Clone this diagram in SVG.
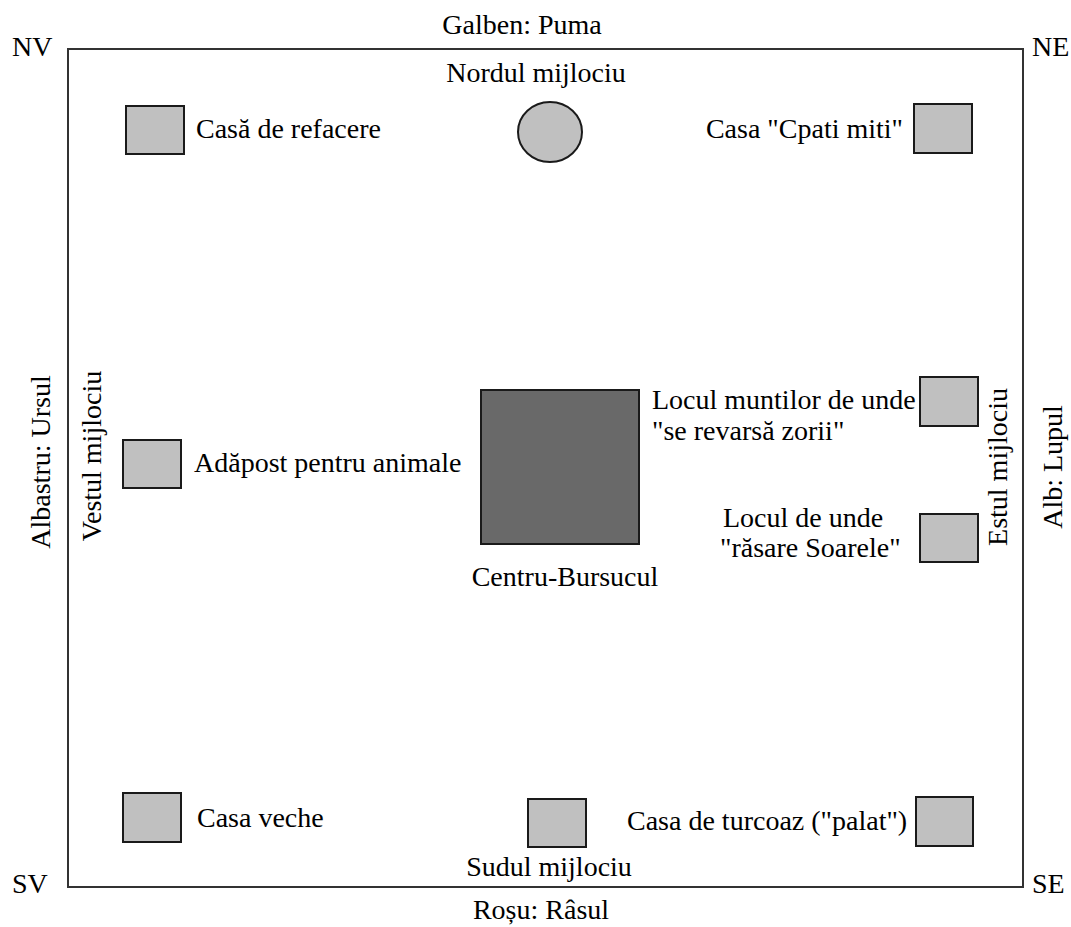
<svg xmlns="http://www.w3.org/2000/svg" width="1071" height="927" viewBox="0 0 1071 927" font-family="'Liberation Serif', Tinos, 'Times New Roman', 'DejaVu Serif', serif">
<style>
text{font-family:"Liberation Serif",Tinos,"Times New Roman","DejaVu Serif",serif;font-size:28px;fill:#000}
.b{fill:#c0c0c0;stroke:#1a1a1a;stroke-width:2}
.d{fill:#696969;stroke:#1a1a1a;stroke-width:2}
.frame{fill:none;stroke:#333;stroke-width:2}
.m{text-anchor:middle}
.e{text-anchor:end}
</style>
<rect width="1071" height="927" fill="#fff"/>
<g id="frame">
<rect class="frame" x="68" y="49" width="955" height="838"/>
<text x="12" y="56">NV</text>
<text x="1032" y="56">NE</text>
<text x="12" y="893">SV</text>
<text x="1032" y="893">SE</text>
<text class="m" x="522" y="34">Galben: Puma</text>
<text class="m" x="541" y="919">Roșu: Râsul</text>
<text class="m" transform="translate(50,462) rotate(-90)">Albastru: Ursul</text>
<text class="m" transform="translate(1062,467) rotate(-90)">Alb: Lupul</text>
</g>
<g id="nordul-mijlociu">
<ellipse class="b" cx="550" cy="132" rx="32" ry="30"/>
<text class="m" x="536" y="82">Nordul mijlociu</text>
</g>
<g id="casa-de-refacere">
<rect class="b" x="126" y="106" width="58" height="48"/>
<text x="196" y="138">Casă de refacere</text>
</g>
<g id="casa-cpati-miti">
<rect class="b" x="914" y="104" width="58" height="49"/>
<text class="e" x="903" y="138">Casa "Cpati miti"</text>
</g>
<g id="vestul-mijlociu">
<text class="m" transform="translate(101,456) rotate(-90)">Vestul mijlociu</text>
</g>
<g id="adapost">
<rect class="b" x="123" y="440" width="58" height="48"/>
<text x="194" y="472">Adăpost pentru animale</text>
</g>
<g id="centru-bursucul">
<rect class="d" x="481" y="390" width="158" height="154"/>
<text class="m" x="565" y="586">Centru-Bursucul</text>
</g>
<g id="locul-muntilor">
<rect class="b" x="920" y="377" width="58" height="49"/>
<text x="652" y="409">Locul muntilor de unde</text>
<text x="652" y="440">"se revarsă zorii"</text>
</g>
<g id="locul-soarele">
<rect class="b" x="920" y="514" width="58" height="48"/>
<text x="723" y="527">Locul de unde</text>
<text x="720" y="557">"răsare Soarele"</text>
</g>
<g id="estul-mijlociu">
<text class="m" transform="translate(1007,467) rotate(-90)">Estul mijlociu</text>
</g>
<g id="casa-veche">
<rect class="b" x="123" y="793" width="58" height="49"/>
<text x="197" y="827">Casa veche</text>
</g>
<g id="sudul-mijlociu">
<rect class="b" x="528" y="799" width="58" height="48"/>
<text class="m" x="549" y="876">Sudul mijlociu</text>
</g>
<g id="casa-de-turcoaz">
<rect class="b" x="916" y="797" width="57" height="49"/>
<text x="627" y="830">Casa de turcoaz ("palat")</text>
</g>
<g id="connectors"></g>
</svg>
